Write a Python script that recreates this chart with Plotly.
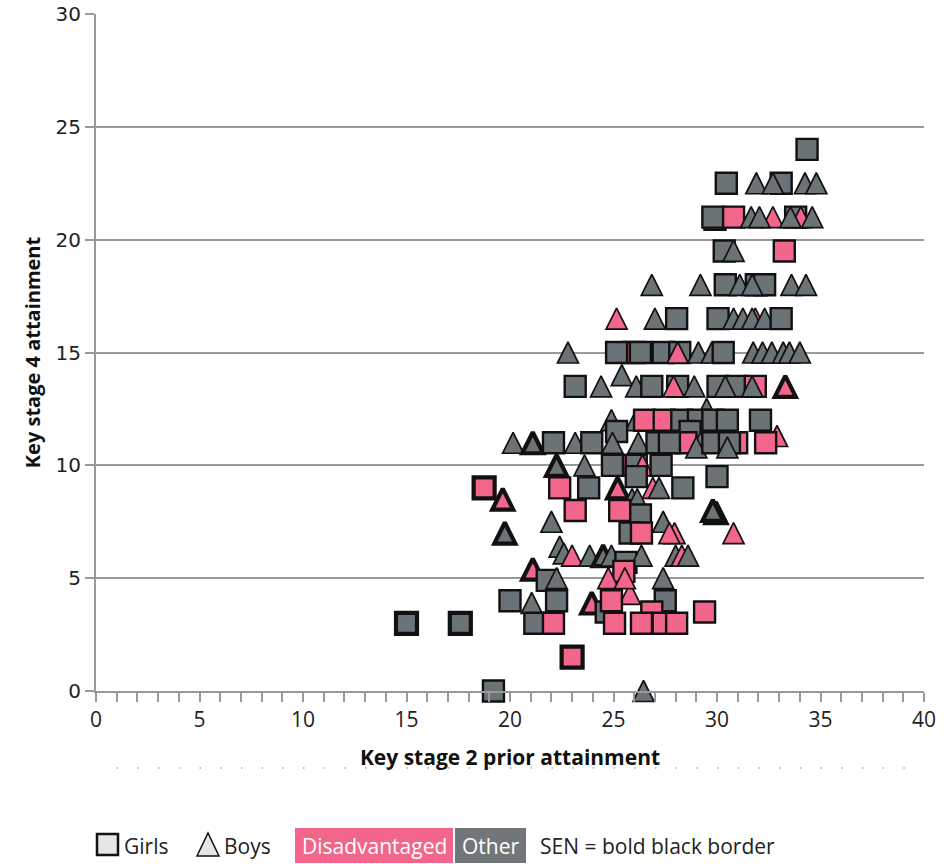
import plotly.graph_objects as go

# Pupil-level records: KS2 prior attainment, KS4 attainment and pupil characteristics
ks2 = [34.35, 30.45, 31.9, 33.1, 32.7, 34.25, 34.8,
       29.9, 29.8, 30.8, 32.7, 31.65, 32.05, 33.8, 34.05, 33.55, 34.6,
       30.35, 30.8, 33.25,
       26.85, 29.2, 30.4, 31.1, 31.9, 32.3, 31.7, 33.6, 34.3,
       25.15, 27.0, 28.05, 30.05, 31.85, 30.8, 31.25, 31.7, 32.3, 33.1,
       22.8, 26.0, 26.3, 25.15, 27.4, 28.2, 28.1, 29.1, 29.75, 30.3, 31.75, 32.2, 32.65, 33.2, 33.5, 34.0,
       25.4,
       23.15, 24.4, 26.1, 26.85, 28.1, 27.9, 28.9, 30.05, 30.95, 30.4, 31.85, 31.7, 33.3,
       29.5,
       24.9, 26.1, 26.5, 27.45, 28.3, 29.1, 29.8, 30.5, 32.1,
       25.15, 28.7, 32.9,
       20.15, 21.1, 22.1, 23.15, 23.95, 24.95, 26.2, 28.5, 27.1, 27.7, 29.2, 29.0, 29.8, 30.95, 30.6, 30.5, 32.35,
       22.25, 23.6, 25.4, 24.95, 26.1, 26.4, 27.3, 26.1, 30.0,
       18.75, 22.4, 23.8, 25.2, 26.9, 27.2, 28.35,
       19.65, 25.9, 26.15,
       23.15, 26.3, 25.3, 29.95, 29.8,
       22.0, 27.4,
       19.75, 25.8, 26.35, 27.95, 27.7, 30.8,
       22.4, 22.6, 23.0, 23.85, 24.5, 24.9, 25.6, 26.35, 28.0, 28.3, 28.6,
       21.1, 21.8, 22.25, 25.5, 25.8, 24.75, 25.55, 27.4,
       20.0, 21.05, 22.25, 23.95, 24.65, 24.9, 27.5, 26.85, 29.4,
       21.2, 22.1, 25.05, 26.35, 27.4, 28.05, 15.0, 17.6,
       23.0, 19.2, 26.45]

ks4 = [24, 22.5, 22.5, 22.5, 22.5, 22.5, 22.5,
       20.9, 21, 21, 21, 21, 21, 21, 21, 21, 21,
       19.5, 19.5, 19.5,
       18, 18, 18, 18, 18, 18, 18, 18, 18,
       16.5, 16.5, 16.5, 16.5, 16.5, 16.5, 16.5, 16.5, 16.5, 16.5,
       15, 15, 15, 15, 15, 15, 15, 15, 15, 15, 15, 15, 15, 15, 15, 15,
       14,
       13.5, 13.5, 13.5, 13.5, 13.5, 13.5, 13.5, 13.5, 13.5, 13.5, 13.5, 13.5, 13.5,
       12.5,
       12, 12, 12, 12, 12, 12, 12, 12, 12,
       11.5, 11.5, 11.3,
       11, 11, 11, 11, 11, 11, 11, 11, 11, 11, 11, 10.8, 11, 11, 11, 10.8, 11,
       10, 10, 10, 10, 10, 10, 10, 9.5, 9.5,
       9, 9, 9, 9, 9, 9, 9,
       8.5, 8.5, 8.5,
       8, 7.8, 8, 7.9, 8,
       7.5, 7.5,
       7, 7, 7, 7, 7, 7,
       6.4, 6.1, 6, 6, 6, 6, 5.7, 6, 6, 6, 6,
       5.4, 4.9, 5, 5.3, 4.3, 5, 5, 5,
       4, 3.9, 4, 3.9, 3.5, 4, 4, 3.5, 3.5,
       3, 3, 3, 3, 3, 3, 3, 3,
       1.5, 0, 0]

# F = girl, M = boy
sex = ["F", "F", "M", "F", "M", "M", "M",
       "F", "F", "F", "M", "M", "M", "F", "M", "M", "M",
       "F", "M", "F",
       "M", "M", "F", "M", "F", "F", "M", "M", "M",
       "M", "M", "F", "F", "M", "M", "M", "M", "M", "F",
       "M", "F", "F", "F", "F", "F", "M", "M", "M", "F", "M", "M", "M", "M", "M", "M",
       "M",
       "F", "M", "M", "F", "F", "M", "M", "F", "F", "M", "F", "M", "M",
       "M",
       "M", "M", "F", "F", "F", "F", "F", "F", "F",
       "F", "F", "M",
       "M", "M", "F", "M", "F", "M", "M", "F", "F", "F", "M", "M", "F", "F", "F", "M", "F",
       "M", "M", "F", "F", "F", "M", "F", "F", "F",
       "F", "F", "F", "M", "M", "M", "F",
       "M", "M", "M",
       "F", "F", "F", "M", "M",
       "M", "M",
       "M", "F", "F", "M", "M", "M",
       "M", "M", "M", "M", "M", "M", "F", "M", "M", "M", "M",
       "M", "F", "M", "F", "M", "M", "M", "M",
       "F", "M", "F", "M", "F", "F", "F", "F", "F",
       "F", "F", "F", "F", "F", "F", "F", "F",
       "F", "F", "M"]

# 1 = disadvantaged, 0 = other
disadvantaged = [0, 0, 0, 0, 0, 0, 0,
                 0, 0, 1, 1, 0, 0, 0, 1, 0, 0,
                 0, 0, 1,
                 0, 0, 0, 0, 0, 0, 0, 0, 0,
                 1, 0, 0, 0, 1, 0, 0, 0, 0, 0,
                 0, 1, 0, 0, 0, 0, 1, 0, 0, 0, 0, 0, 0, 0, 0, 0,
                 0,
                 0, 0, 0, 0, 0, 1, 0, 0, 0, 0, 1, 0, 1,
                 0,
                 0, 0, 1, 1, 0, 0, 0, 0, 0,
                 0, 0, 1,
                 0, 0, 0, 0, 0, 0, 0, 1, 0, 0, 0, 0, 0, 1, 0, 0, 1,
                 0, 0, 1, 0, 0, 1, 0, 0, 0,
                 1, 1, 0, 1, 1, 0, 0,
                 1, 0, 0,
                 1, 0, 1, 0, 0,
                 0, 0,
                 0, 0, 1, 1, 1, 1,
                 0, 0, 1, 0, 0, 0, 0, 0, 0, 1, 0,
                 1, 0, 0, 1, 1, 1, 1, 0,
                 0, 0, 0, 1, 0, 1, 0, 1, 1,
                 0, 1, 1, 1, 1, 1, 0, 0,
                 1, 0, 0]

# 1 = special educational needs
sen = [0, 0, 0, 0, 0, 0, 0,
       0, 0, 0, 0, 0, 0, 0, 0, 0, 0,
       0, 0, 0,
       0, 0, 0, 0, 0, 0, 0, 0, 0,
       0, 0, 0, 0, 0, 0, 0, 0, 0, 0,
       0, 0, 0, 0, 0, 0, 0, 0, 0, 0, 0, 0, 0, 0, 0, 0,
       0,
       0, 0, 0, 0, 0, 0, 0, 0, 0, 0, 0, 0, 1,
       0,
       0, 0, 0, 0, 0, 0, 0, 0, 0,
       0, 0, 0,
       0, 1, 0, 0, 0, 0, 0, 0, 0, 0, 0, 0, 0, 0, 0, 0, 0,
       1, 0, 0, 0, 0, 0, 0, 0, 0,
       1, 0, 0, 1, 0, 0, 0,
       1, 0, 0,
       0, 0, 0, 1, 1,
       0, 0,
       1, 0, 0, 0, 0, 0,
       0, 0, 0, 0, 1, 0, 0, 0, 0, 0, 0,
       1, 0, 0, 0, 0, 0, 0, 0,
       0, 0, 0, 1, 0, 0, 0, 0, 0,
       0, 0, 0, 0, 0, 0, 1, 1,
       1, 0, 0]

PINK = "#f2668b"
GREY = "#6c7376"
AXIS_GREY = "#999999"

n = len(ks2)
sq_size, tri_size = 21, 21
symbols, sizes, angles, standoffs, colors, widths = [], [], [], [], [], []
for i in range(n):
    girl = sex[i] == "F"
    # boys: an upright, roughly equilateral triangle centred on the point
    symbols.append("square" if girl else "arrow-down")
    sizes.append(sq_size if girl else tri_size)
    angles.append(0 if girl else 180)
    standoffs.append(0 if girl else tri_size / 2)
    colors.append(PINK if disadvantaged[i] else GREY)
    widths.append(4.2 if sen[i] else (2.4 if girl else 1.7))

fig = go.Figure(go.Scatter(
    x=ks2, y=ks4, mode="markers", cliponaxis=False, hoverinfo="x+y",
    marker=dict(symbol=symbols, size=sizes, angle=angles, standoff=standoffs,
                color=colors, opacity=1,
                line=dict(color="#111111", width=widths)),
))

W, H = 948, 864
L, R, T, B = 96, 24, 14, 173
pw, ph = W - L - R, H - T - B


def px_x(p):
    return (p - L) / pw


def px_y(p):
    return (H - B - p) / ph


fig.update_layout(
    width=W, height=H, margin=dict(l=L, r=R, t=T, b=B, autoexpand=False),
    paper_bgcolor="white", plot_bgcolor="white", showlegend=False,
    font=dict(family="Open Sans, sans-serif", color="#222222"),
)
fig.update_xaxes(
    range=[0, 40], dtick=5, tick0=0, showgrid=False, zeroline=False,
    automargin=False,
    showline=True, linecolor=AXIS_GREY, linewidth=2,
    ticks="outside", ticklen=9, tickwidth=1.5, tickcolor=AXIS_GREY,
    minor=dict(dtick=1, ticks="outside", ticklen=9, tickwidth=1.5,
               tickcolor=AXIS_GREY, showgrid=False),
    tickfont=dict(size=21, color="#222222"),
    title=dict(text="<b>Key stage 2 prior attainment</b>", standoff=18,
               font=dict(size=21, color="#111111")),
)
fig.update_yaxes(
    range=[0, 30], dtick=5, tick0=0, showgrid=True, gridcolor=AXIS_GREY,
    gridwidth=1.5, zeroline=False, showline=True, linecolor=AXIS_GREY,
    automargin=False,
    linewidth=2, ticks="outside", ticklen=9, tickwidth=1.5, tickcolor=AXIS_GREY,
    tickfont=dict(size=20, family="DejaVu Sans, sans-serif", color="#222222"),
    title=dict(text="<b>Key stage 4 attainment</b>", standoff=10,
               font=dict(size=20, color="#111111")),
)

# dotted rule under the x-axis title
fig.add_shape(type="line", xref="x", yref="paper", x0=1, x1=39.6,
              y0=px_y(768), y1=px_y(768), layer="below",
              line=dict(color="#aaaaaa", width=1.5, dash="1.5px,19.2px"))

# key along the bottom
fig.add_shape(type="rect", xref="paper", yref="paper",
              x0=px_x(97), x1=px_x(118), y0=px_y(855), y1=px_y(834),
              fillcolor="#e6e6e6", line=dict(color="#111111", width=2.5))
tx0, tx1, tx2 = px_x(197), px_x(219), px_x(208)
ty0, ty1 = px_y(856), px_y(833)
fig.add_shape(type="path", xref="paper", yref="paper",
              path=f"M {tx0},{ty0} L {tx1},{ty0} L {tx2},{ty1} Z",
              fillcolor="#e6e6e6", line=dict(color="#111111", width=1.5))
fig.add_shape(type="rect", xref="paper", yref="paper",
              x0=px_x(295), x1=px_x(453), y0=px_y(863), y1=px_y(828),
              fillcolor=PINK, line=dict(width=0))
fig.add_shape(type="rect", xref="paper", yref="paper",
              x0=px_x(455), x1=px_x(526), y0=px_y(863), y1=px_y(828),
              fillcolor="#717779", line=dict(width=0))

key_items = [
    ("Girls", 122, "#222222", "left"),
    ("Boys", 222, "#222222", "left"),
    ("Disadvantaged", 374, "white", "center"),
    ("Other", 490.5, "white", "center"),
    ("SEN = bold black border", 538, "#222222", "left"),
]
for text, xp, col, anchor in key_items:
    fig.add_annotation(text=text, xref="paper", yref="paper", x=px_x(xp),
                       y=px_y(846), xanchor=anchor, yanchor="middle",
                       showarrow=False, font=dict(size=21, color=col))

fig.write_html("out.html")
